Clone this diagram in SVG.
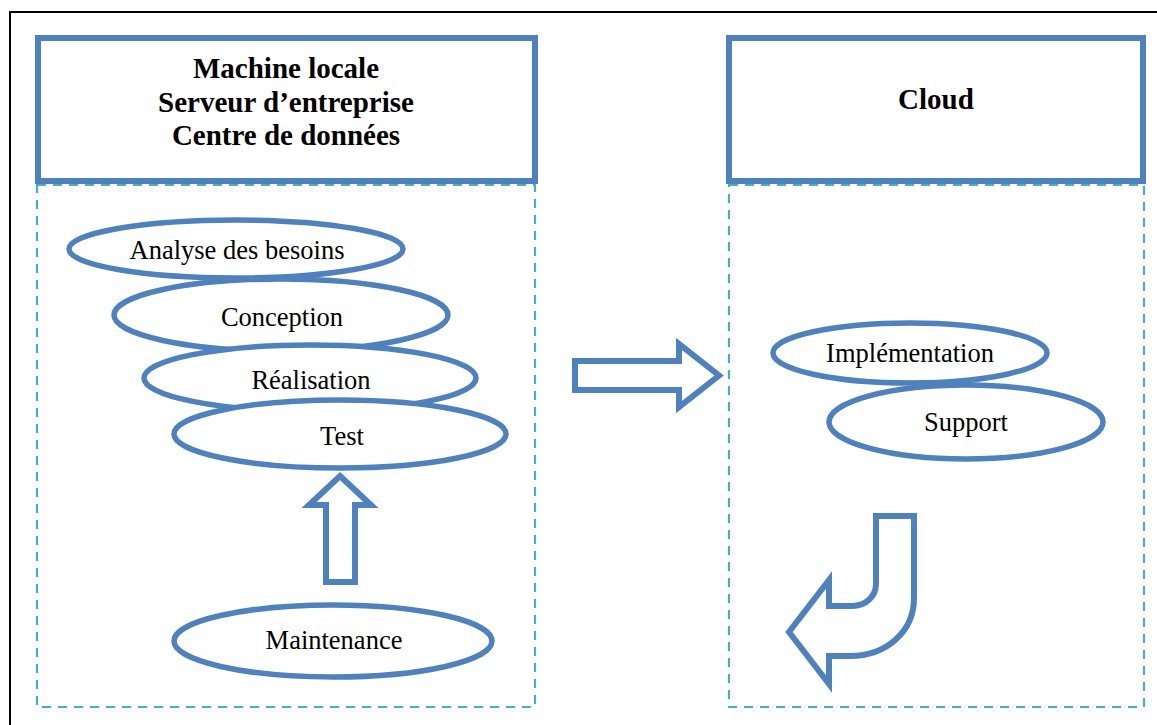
<svg xmlns="http://www.w3.org/2000/svg" width="1157" height="725" viewBox="0 0 1157 725">
<style>
.frame{fill:none;stroke:#000;stroke-width:2}
.hdr{fill:#fff;stroke:#4F81BD;stroke-width:6}
.dash{fill:none;stroke:#4BACC6;stroke-width:2.2;stroke-dasharray:9 7}
.node ellipse{fill:#fff;stroke:#4F81BD;stroke-width:5.5}
.arrow{fill:#fff;stroke:#4F81BD;stroke-width:6;stroke-linejoin:miter}
.t{font-family:"Liberation Serif","Times New Roman",serif;font-size:26.5px;fill:#000;text-anchor:middle}
.b{font-family:"Liberation Serif","Times New Roman",serif;font-size:29px;font-weight:bold;fill:#000;text-anchor:middle}
</style>
<rect width="1157" height="725" fill="#fff"/>
<path class="frame" d="M10,740 L10,12 L1170,12"/>

<g id="local-header">
<rect class="hdr" x="38" y="38" width="497" height="143"/>
<text class="b" x="286" y="78">Machine locale</text>
<text class="b" x="286" y="111.5">Serveur d’entreprise</text>
<text class="b" x="286" y="145">Centre de données</text>
</g>
<g id="local-zone">
<rect class="dash" x="37" y="185" width="498" height="522"/>
</g>
<g id="cloud-header">
<rect class="hdr" x="729" y="38" width="414" height="143"/>
<text class="b" x="936" y="109">Cloud</text>
</g>
<g id="cloud-zone">
<rect class="dash" x="729" y="185" width="415" height="522"/>
</g>

<g id="analyse" class="node">
<ellipse cx="236" cy="249" rx="167" ry="29"/>
<text class="t" x="237" y="259">Analyse des besoins</text>
</g>
<g id="conception" class="node">
<ellipse cx="281" cy="315" rx="167" ry="36"/>
<text class="t" x="282" y="326">Conception</text>
</g>
<g id="realisation" class="node">
<ellipse cx="310" cy="378" rx="166" ry="33"/>
<text class="t" x="311" y="389">Réalisation</text>
</g>
<g id="test" class="node">
<ellipse cx="340" cy="434" rx="166" ry="34"/>
<text class="t" x="342" y="445">Test</text>
</g>
<g id="maintenance" class="node">
<ellipse cx="333" cy="641" rx="159" ry="36"/>
<text class="t" x="334" y="649">Maintenance</text>
</g>
<g id="implementation" class="node">
<ellipse cx="910" cy="353" rx="137" ry="30"/>
<text class="t" x="910" y="362">Implémentation</text>
</g>
<g id="support" class="node">
<ellipse cx="966" cy="422" rx="137" ry="37"/>
<text class="t" x="966" y="431">Support</text>
</g>

<g id="connectors">
<path class="arrow" d="M575,361 L679,361 L679,344 L719,375.5 L679,407 L679,390 L575,390 Z"/>
<path class="arrow" d="M340,476 L371,505 L355,505 L355,582 L326,582 L326,505 L309,505 Z"/>
<path class="arrow" d="M876,516 L914,516 L914,598 C914,632 886,656 850,656 L829,656 L829,684 L789,632 L829,580 L829,606 L852,606 C866,606 876,596 876,584 Z"/>
</g>
</svg>
